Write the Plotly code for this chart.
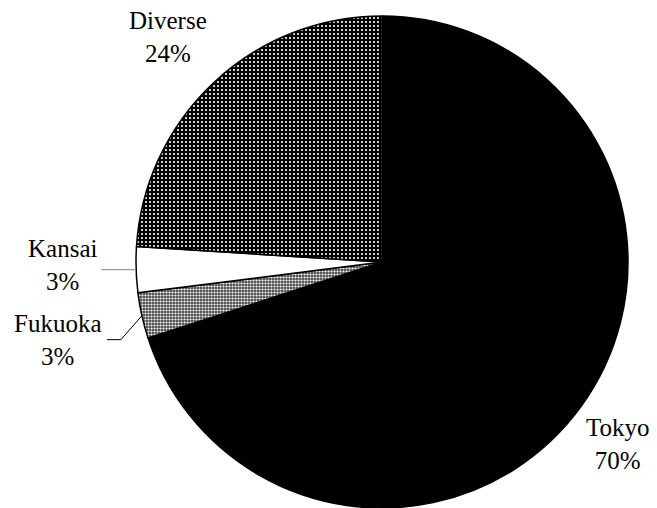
import math
import plotly.graph_objects as go

# Share of respondents by region (clockwise from 12 o'clock)
regions = ["Tokyo", "Fukuoka", "Kansai", "Diverse"]
shares = [70, 3, 3, 24]

W, H = 657, 508
DOM_X = [136 / W, 628 / W]
DOM_Y = [0.0, 0.9685]
SERIF = "Liberation Serif, Times New Roman, serif"

# slice fills: base colour + dot pattern
base_colors = ["#000000", "#4a4a4a", "#ffffff", "#000000"]
pat_shapes = ["", ".", "", "."]
pat_fg = ["#000000", "#ffffff", "#ffffff", "#ffffff"]
pat_size = [4, 3, 4, 4]
pat_solid = [0.3, 0.4, 0.3, 0.22]

# label placement relative to each slice's arc midpoint (pixels, +y down)
label_offset = {"Tokyo": (37, 37), "Fukuoka": (-84, 24), "Kansai": (-74, -5), "Diverse": (-46, -46)}
leader_path = {"Fukuoka": [(-21, 24), (-35, 24)], "Kansai": [(-35, 0)]}
leader_color = {"Fukuoka": "#000000", "Kansai": "#808080"}

fig = go.Figure(go.Pie(
    labels=regions,
    values=shares,
    sort=False,
    direction="clockwise",
    rotation=0,
    textinfo="none",
    hoverinfo="label+percent",
    domain=dict(x=DOM_X, y=DOM_Y),
    marker=dict(
        colors=base_colors,
        line=dict(color="#000000", width=1.5),
        pattern=dict(shape=pat_shapes, fgcolor=pat_fg, bgcolor=base_colors,
                     size=pat_size, solidity=pat_solid, fillmode="replace"),
    ),
    showlegend=False,
))

# pie geometry in pixels
cx = W * (DOM_X[0] + DOM_X[1]) / 2
cy = H * (1 - (DOM_Y[0] + DOM_Y[1]) / 2)
r = min(W * (DOM_X[1] - DOM_X[0]), H * (DOM_Y[1] - DOM_Y[0])) / 2


def to_paper(px, py):
    return px / W, 1 - py / H


total = sum(shares)
annotations, shapes = [], []
cum = 0.0
for name, val in zip(regions, shares):
    mid = (cum + val / 2) / total * 2 * math.pi
    cum += val
    mx = cx + r * math.sin(mid)
    my = cy - r * math.cos(mid)
    ox, oy = label_offset[name]
    lx, ly = to_paper(mx + ox, my + oy)
    pct = round(val / total * 100)
    annotations.append(dict(
        x=lx, y=ly, xref="paper", yref="paper", showarrow=False,
        xanchor="center", yanchor="middle", align="center",
        text=f"{name}<br>{pct}%",
        font=dict(family=SERIF, size=25, color="#000000"),
    ))
    if name in leader_path:
        pts = [(mx, my)] + [(mx + dx, my + dy) for dx, dy in leader_path[name]]
        path = "M " + " L ".join(f"{to_paper(px, py)[0]},{to_paper(px, py)[1]}" for px, py in pts)
        shapes.append(dict(type="path", xref="paper", yref="paper", path=path,
                           line=dict(color=leader_color[name], width=1)))

fig.update_layout(
    width=W, height=H,
    margin=dict(l=0, r=0, t=0, b=0),
    paper_bgcolor="#ffffff",
    plot_bgcolor="#ffffff",
    font=dict(family=SERIF),
    annotations=annotations,
    shapes=shapes,
)

fig.write_html("out.html")
